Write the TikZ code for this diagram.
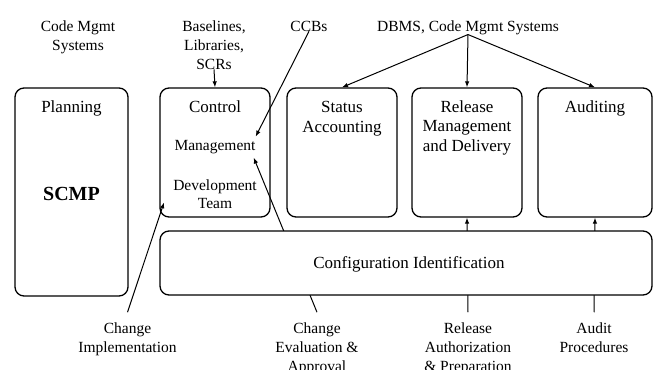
\documentclass[tikz,border=0pt]{standalone}
\usepackage{fontspec}
\setmainfont{Liberation Serif}
\usetikzlibrary{arrows.meta}
\tikzset{
	blk/.style={draw, line width=1.3pt, rounded corners=9pt, inner sep=0pt},
	ttl/.style={font=\fontsize{17}{19.5}\selectfont, align=center, anchor=base, inner sep=0pt},
	lbl/.style={font=\fontsize{15.5}{19}\selectfont, align=center, anchor=base, inner sep=0pt},
	botlbl/.style={lbl, outer ysep=10pt},
	cnx/.style={line width=1pt, ->, >={Latex[length=6pt,width=4.5pt]}},
}
\begin{document}
\begin{tikzpicture}[x=1pt, y=-1pt]
	\useasboundingbox (0,0) rectangle (657,370);
	% function blocks (base = last line)
	\node[blk, minimum width=113pt, minimum height=208pt] (planning) at (71.5,192) {};
	\node[blk, minimum width=110pt, minimum height=129pt] (control) at (215,152.5) {};
	\node[blk, minimum width=110pt, minimum height=129pt] (status) at (342,152.5) {};
	\node[blk, minimum width=110pt, minimum height=129pt] (release) at (467,152.5) {};
	\node[blk, minimum width=114pt, minimum height=129pt] (auditing) at (595,152.5) {};
	\node[ttl] (planningT) at (71.5,112) {Planning};
	\node[ttl, font=\fontsize{20}{24}\selectfont\bfseries] (scmp) at (71.5,200) {SCMP};
	\node[ttl] (controlT) at (215,112) {Control};
	\node[lbl] (mgmt) at (215,150) {Management};
	\node[lbl, font=\fontsize{15.5}{18}\selectfont] (dev) at (215,208) {Development\\Team};
	\node[ttl] (statusT) at (342,132) {Status\\Accounting};
	\node[ttl] (releaseT) at (467,151) {Release\\Management\\and Delivery};
	\node[ttl] (auditingT) at (595,112) {Auditing};
	% inputs on top
	\node[lbl] (codemgmt) at (78,50) {Code Mgmt\\Systems};
	\node[lbl] (baselines) at (214,69) {Baselines,\\Libraries,\\SCRs};
	\node[lbl] (ccbs) at (309,31) {CCBs};
	\node[lbl] (dbms) at (468,31) {DBMS, Code Mgmt Systems};
	% inputs below
	\node[botlbl] (implab) at (127.5,352) {Change\\Implementation};
	\node[botlbl] (evallab) at (317,371) {Change\\Evaluation \&\\Approval};
	\node[botlbl] (relauth) at (468,371) {Release\\Authorization\\\& Preparation};
	\node[botlbl] (auditlab) at (594,352) {Audit\\Procedures};
	% connectors
	\draw[cnx] (baselines.south) -- (control.north);
	\draw[cnx] (dbms.south) -- (status.north);
	\draw[cnx] (dbms.south) -- (release.north);
	\draw[cnx] (dbms.south) -- (auditing.north);
	\draw[cnx] (ccbs.south) -- ([yshift=3pt]mgmt.north east);
	\draw[cnx] (evallab.north) -- ([xshift=-2pt,yshift=-4pt]mgmt.south east);
	\draw[cnx] (implab.north) -- ([xshift=-9pt,yshift=6pt]dev.south west);
	\draw[cnx] (relauth.north) -- (release.south);
	\draw[cnx] (auditlab.north) -- (auditing.south);
	% configuration identification over the lines
	\node[blk, fill=white, minimum width=492pt, minimum height=64pt] (config) at (406,263) {};
	\node[ttl] (configT) at (409,268) {Configuration Identification};
\end{tikzpicture}
\end{document}
